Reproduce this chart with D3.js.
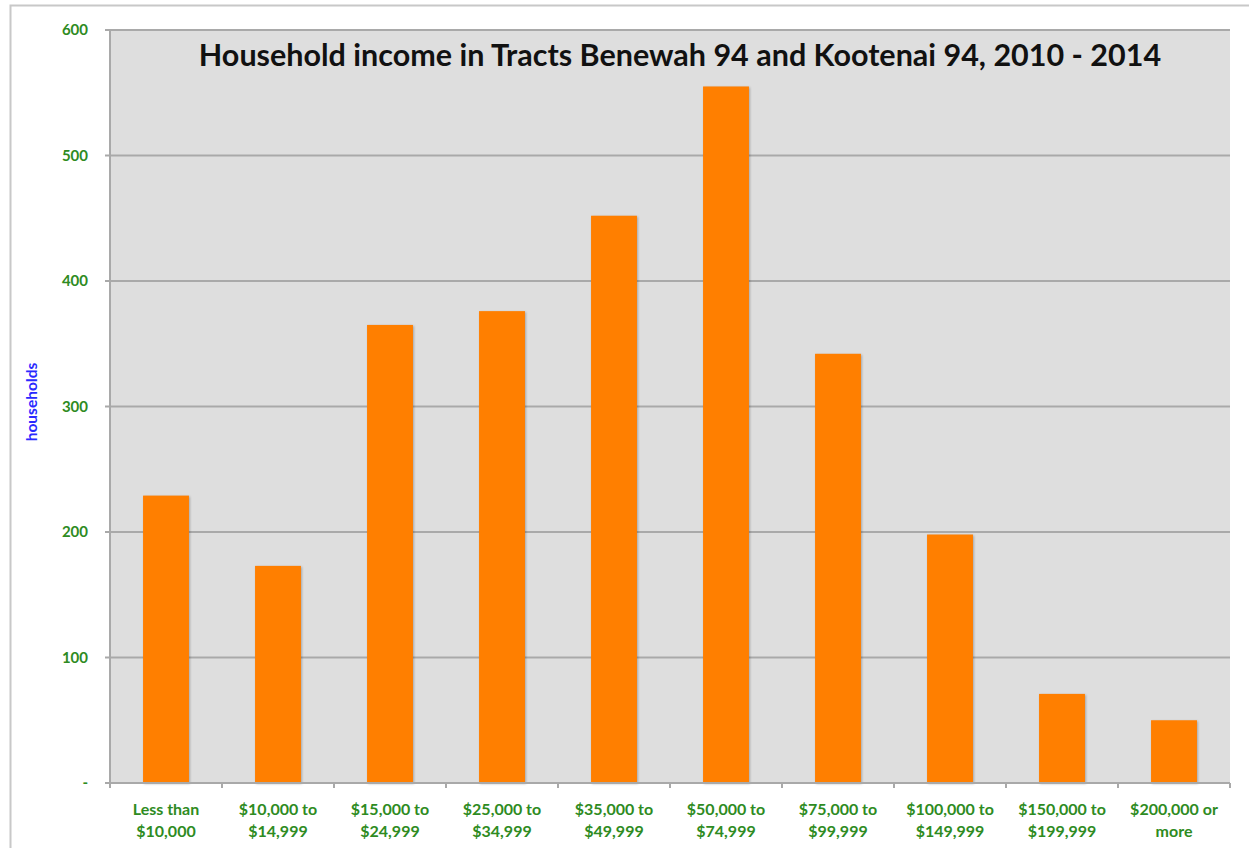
<!DOCTYPE html>
<html><head><meta charset="utf-8">
<script src="https://cdn.jsdelivr.net/npm/d3@7"></script>
<style>body{margin:0;background:#fff}svg{display:block}</style>
</head><body>
<script>
const categories = [["Less than","$10,000"],["$10,000 to","$14,999"],["$15,000 to","$24,999"],["$25,000 to","$34,999"],["$35,000 to","$49,999"],["$50,000 to","$74,999"],["$75,000 to","$99,999"],["$100,000 to","$149,999"],["$150,000 to","$199,999"],["$200,000 or","more"]];
const households = [229, 173, 365, 376, 452, 555, 342, 198, 71, 50];
const yTicks = [0, 100, 200, 300, 400, 500, 600];
const title = "Household income in Tracts Benewah 94 and Kootenai 94, 2010 - 2014";

const W = 1249, H = 848;
const m = {left:110, right:1230, top:30, bottom:783};
const svg = d3.select("body").append("svg").attr("width", W).attr("height", H);

// outer frame
svg.append("path").attr("d", `M10.5,${H} L10.5,5.5 L${W},5.5`).attr("fill","none").attr("stroke","#c8c8c8").attr("stroke-width",2);

const x = d3.scaleBand().domain(d3.range(categories.length)).range([m.left, m.right]).paddingInner(0.59).paddingOuter(0.295);
const xb = d3.scaleBand().domain(d3.range(categories.length)).range([m.left, m.right]);
const y = d3.scaleLinear().domain([0, 600]).range([m.bottom, m.top]);

svg.append("rect").attr("x", m.left).attr("y", m.top).attr("width", m.right-m.left).attr("height", m.bottom-m.top).attr("fill","#dedede");

// gridlines
svg.append("g").selectAll("line").data(yTicks.filter(d=>d>0)).join("line")
  .attr("x1", m.left-5).attr("x2", m.right).attr("y1", d=>y(d)).attr("y2", d=>y(d))
  .attr("stroke","#a9a9a9").attr("stroke-width",2);

// bars
svg.append("g").selectAll("rect").data(households).join("rect")
  .attr("x", (d,i)=>x(i)).attr("width", x.bandwidth())
  .attr("y", d=>y(d)).attr("height", d=>y(0)-y(d))
  .attr("fill","#ff7f00")
  .style("filter","drop-shadow(1px 1px 1px rgba(0,0,0,0.25))");

// axes lines
svg.append("line").attr("x1", m.left).attr("x2", m.left).attr("y1", m.top).attr("y2", m.bottom).attr("stroke","#a9a9a9").attr("stroke-width",2);
svg.append("line").attr("x1", m.left-5).attr("x2", m.right).attr("y1", m.bottom).attr("y2", m.bottom).attr("stroke","#a9a9a9").attr("stroke-width",2);
// x ticks
svg.append("g").selectAll("line").data(d3.range(categories.length+1)).join("line")
  .attr("x1", i=> i<categories.length ? xb(i) : m.right).attr("x2", i=> i<categories.length ? xb(i) : m.right)
  .attr("y1", m.bottom).attr("y2", m.bottom+5).attr("stroke","#a9a9a9").attr("stroke-width",2);

const font = "Lato, 'Open Sans', sans-serif";
const green = "#2e8b22";
// y tick labels
svg.append("g").selectAll("text").data(yTicks).join("text")
  .attr("x", 88).attr("y", d=>y(d)).attr("dy","0.35em").attr("text-anchor","end")
  .attr("font-family", font).attr("font-weight","bold").attr("font-size",15).attr("fill",green)
  .text(d=> d===0 ? "-" : d);

// x labels
const xl = svg.append("g").selectAll("text").data(categories).join("text")
  .attr("text-anchor","middle").attr("font-family", font).attr("font-weight","bold").attr("font-size",16).attr("fill",green);
xl.each(function(c,i){
  const t = d3.select(this);
  c.forEach((line,j)=>{
    t.append("tspan").attr("x", xb(i)+xb.bandwidth()/2).attr("y", 815 + j*22).text(line);
  });
});

// y axis title
svg.append("text").attr("transform","translate(37,402) rotate(-90)").attr("text-anchor","middle")
  .attr("font-family", font).attr("font-weight","bold").attr("font-size",15.5).attr("fill","#2a2aff").text("households");

// chart title
svg.append("text").attr("x", 680).attr("y", 66).attr("text-anchor","middle")
  .attr("font-family", font).attr("font-weight","bold").attr("font-size",30.5).attr("fill","#111").text(title);
</script>
</body></html>
